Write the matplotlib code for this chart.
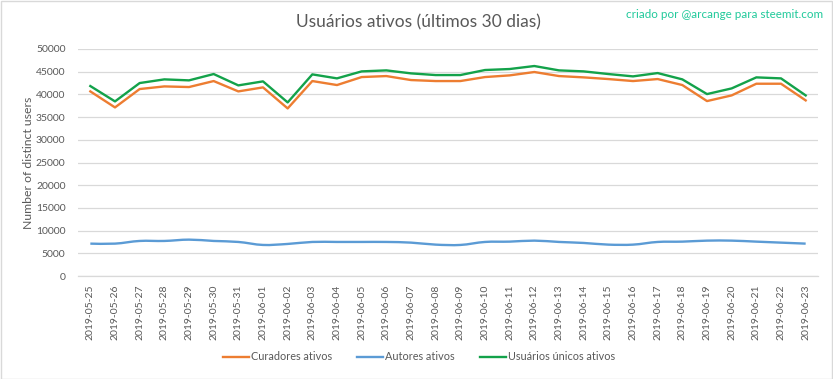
import matplotlib
matplotlib.use("Agg")
import matplotlib.pyplot as plt
from matplotlib.path import Path
from matplotlib.patches import PathPatch, Rectangle
import numpy as np

dates = ["2019-05-25", "2019-05-26", "2019-05-27", "2019-05-28", "2019-05-29", "2019-05-30",
         "2019-05-31", "2019-06-01", "2019-06-02", "2019-06-03", "2019-06-04", "2019-06-05",
         "2019-06-06", "2019-06-07", "2019-06-08", "2019-06-09", "2019-06-10", "2019-06-11",
         "2019-06-12", "2019-06-13", "2019-06-14", "2019-06-15", "2019-06-16", "2019-06-17",
         "2019-06-18", "2019-06-19", "2019-06-20", "2019-06-21", "2019-06-22", "2019-06-23"]

curadores = [40660, 37130, 41180, 41760, 41620, 42940, 40660, 41545, 36910, 42940,
             42060, 43820, 44040, 43160, 42940, 42940, 43820, 44190, 44930, 44040,
             43750, 43380, 42940, 43380, 42060, 38530, 39780, 42350, 42350, 38680]
autores = [7130, 7130, 7720, 7720, 8010, 7720, 7500, 6840, 7060, 7500,
           7500, 7500, 7500, 7350, 6910, 6840, 7500, 7570, 7790, 7500,
           7280, 6910, 6910, 7500, 7570, 7790, 7790, 7570, 7350, 7130]
unicos = [41840, 38456, 42500, 43310, 43090, 44485, 41985, 42870, 38235, 44410,
          43530, 45070, 45290, 44630, 44260, 44260, 45370, 45590, 46250, 45290,
          45070, 44485, 43970, 44700, 43310, 40070, 41320, 43750, 43530, 39780]

yticks = [0, 5000, 10000, 15000, 20000, 25000, 30000, 35000, 40000, 45000, 50000]

FONT = ["Lato", "DejaVu Sans"]
plt.rcParams["font.family"] = FONT
TXT = "#595959"
W, H = 833, 379
fig = plt.figure(figsize=(W / 100, H / 100), dpi=100)
fig.patch.set_facecolor("white")
fig.add_artist(Rectangle((0.5 / W, 0.5 / H), 1 - 1.5 / W, 1 - 1.5 / H, transform=fig.transFigure,
                         fill=False, edgecolor="#d9d9d9", linewidth=1))

left, right, top, bottom = 78, 818, 49, 276
ax = fig.add_axes([left / W, 1 - bottom / H, (right - left) / W, (bottom - top) / H])
x = np.arange(len(dates))


def smooth_path(xs, ys):
    # Catmull-Rom style smoothing rendered as cubic Bezier segments
    xs = np.asarray(xs, float)
    ys = np.asarray(ys, float)
    verts = [(xs[0], ys[0])]
    codes = [Path.MOVETO]
    n = len(xs)
    for i in range(n - 1):
        p0 = (xs[max(i - 1, 0)], ys[max(i - 1, 0)])
        p1 = (xs[i], ys[i])
        p2 = (xs[i + 1], ys[i + 1])
        p3 = (xs[min(i + 2, n - 1)], ys[min(i + 2, n - 1)])
        t = 1 / 6
        c1 = (p1[0] + (p2[0] - p0[0]) * t, p1[1] + (p2[1] - p0[1]) * t)
        c2 = (p2[0] - (p3[0] - p1[0]) * t, p2[1] - (p3[1] - p1[1]) * t)
        verts += [c1, c2, p2]
        codes += [Path.CURVE4] * 3
    return Path(verts, codes)


ax.plot(x, curadores, color="#ED7D31", linewidth=1.7, label="Curadores ativos", solid_joinstyle="round")
ax.add_patch(PathPatch(smooth_path(x, autores), facecolor="none", edgecolor="#5B9BD5", linewidth=1.7))
ax.plot([], [], color="#5B9BD5", linewidth=1.7, label="Autores ativos")
ax.plot(x, unicos, color="#13A24A", linewidth=1.7, label="Usuários únicos ativos", solid_joinstyle="round")

ax.set_xlim(-0.5, len(dates) - 0.5)
ax.set_ylim(0, 50000)
ax.set_yticks(yticks)
ax.set_yticklabels([str(v) for v in yticks])
ax.set_xticks(x)
ax.set_xticklabels(dates, rotation=90)
ax.tick_params(axis="both", length=0, labelsize=7.5, colors=TXT)
ax.tick_params(axis="y", pad=9)
ax.tick_params(axis="x", pad=6)
ax.grid(axis="y", color="#d9d9d9", linewidth=0.9)
ax.set_axisbelow(True)
for s in ["top", "right", "left"]:
    ax.spines[s].set_visible(False)
ax.spines["bottom"].set_color("#d9d9d9")
ax.spines["bottom"].set_linewidth(0.9)

ax.set_ylabel("Number of distinct users", fontsize=8.8, color=TXT, labelpad=1)

fig.text(418 / W, 1 - 22 / H, "Usuários ativos (últimos 30 dias)", ha="center", va="center",
         fontsize=12.5, color=TXT)
fig.text(823 / W, 1 - 14 / H, "criado por @arcange para steemit.com", ha="right", va="center",
         fontsize=8.4, color="#1FC99A")

handles, labels = ax.get_legend_handles_labels()
leg = fig.legend(handles, labels, loc="center", bbox_to_anchor=(419 / W, 1 - 357 / H), ncol=3,
                 frameon=False, fontsize=7.8, handlelength=2.4, handletextpad=0.2, columnspacing=2.3)
for t in leg.get_texts():
    t.set_color(TXT)

fig.savefig("out.png", dpi=100, facecolor="white")
